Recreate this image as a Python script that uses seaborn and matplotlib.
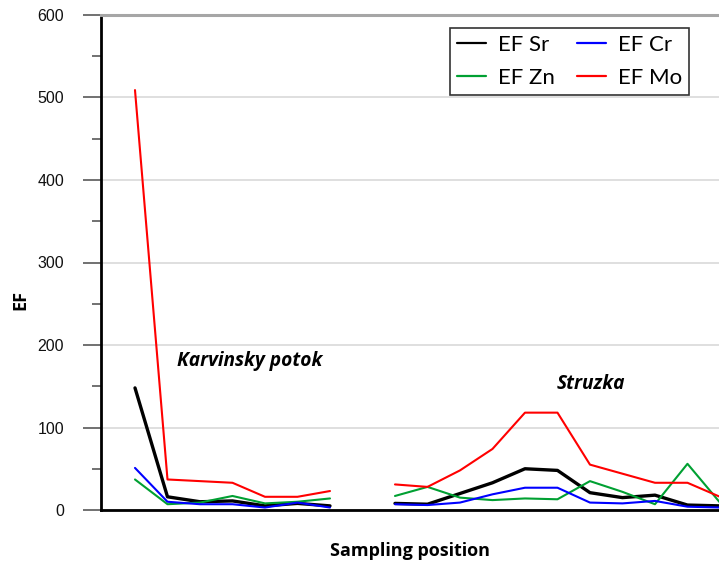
import numpy as np
import pandas as pd
import matplotlib
matplotlib.use("Agg")
import matplotlib.pyplot as plt
from matplotlib.lines import Line2D
from matplotlib.ticker import MultipleLocator
import seaborn as sns

# Sampling positions along the two streams
karvinsky_pos = [0, 1, 2, 3, 4, 5, 6]
struzka_pos = [8, 9, 10, 11, 12, 13, 14, 15, 16, 17, 18]

# Enrichment factors, Karvinsky potok
karv_sr = [148, 16, 10, 11, 5, 8, 5]
karv_cr = [51, 10, 7, 7, 3, 9, 3]
karv_zn = [37, 7, 9, 17, 8, 10, 14]
karv_mo = [509, 37, 35, 33, 16, 16, 23]

# Enrichment factors, Struzka
str_sr = [8, 7, 20, 33, 50, 48, 21, 15, 18, 6, 5]
str_cr = [7, 6, 9, 19, 27, 27, 9, 8, 11, 4, 3]
str_zn = [17, 28, 15, 12, 14, 13, 35, 22, 7, 56, 9]
str_mo = [31, 28, 48, 74, 118, 118, 55, 44, 33, 33, 16]

series_names = ["EF Sr", "EF Zn", "EF Cr", "EF Mo"]
palette = {"EF Sr": "#000000", "EF Zn": "#00a032", "EF Cr": "#0000ff", "EF Mo": "#ff0000"}
widths = {"EF Sr": 2.4, "EF Zn": 1.5, "EF Cr": 1.5, "EF Mo": 1.5}

rows = []
for site, pos, vals in [
    ("Karvinsky potok", karvinsky_pos, {"EF Sr": karv_sr, "EF Zn": karv_zn, "EF Cr": karv_cr, "EF Mo": karv_mo}),
    ("Struzka", struzka_pos, {"EF Sr": str_sr, "EF Zn": str_zn, "EF Cr": str_cr, "EF Mo": str_mo}),
]:
    for name in series_names:
        for p, v in zip(pos, vals[name]):
            rows.append({"site": site, "pos": p, "series": name, "EF": v})
df = pd.DataFrame(rows)

sns.set_style("white")
plt.rcParams["font.family"] = ["Liberation Sans", "DejaVu Sans"]
plt.rcParams["text.color"] = "black"
plt.rcParams["axes.labelcolor"] = "black"

fig = plt.figure(figsize=(7.19, 5.67), dpi=100)
ax = fig.add_axes([101 / 719, 57 / 567, 618 / 719, 495 / 567])

for name in series_names:
    sub = df[df["series"] == name]
    sns.lineplot(data=sub, x="pos", y="EF", units="site", estimator=None,
                 color=palette[name], linewidth=widths[name], ax=ax, legend=False)

ax.set_xlim(-1.046, 17.97)
ax.set_ylim(0, 600)

# gridlines
ax.yaxis.set_major_locator(MultipleLocator(100))
ax.yaxis.set_minor_locator(MultipleLocator(50))
ax.grid(axis="y", which="major", color="#d9d9d9", linewidth=1.2, zorder=0)
ax.grid(axis="x", visible=False)
ax.set_axisbelow(True)

ax.spines["right"].set_visible(False)
ax.spines["top"].set_color("#a6a6a6")
ax.spines["top"].set_linewidth(2.2)
ax.spines["left"].set_color("black")
ax.spines["left"].set_linewidth(2)
ax.spines["bottom"].set_color("black")
ax.spines["bottom"].set_linewidth(2)

ax.set_xticks([])
ax.tick_params(axis="y", which="major", direction="out", length=12.7, width=1.3,
               color="#666666", pad=14, labelsize=11.5, labelcolor="#111111", left=True)
ax.tick_params(axis="y", which="minor", direction="out", length=6.7, width=1.3,
               color="#666666", left=True)

ax.set_xlabel("Sampling position", fontsize=13, fontweight="bold",
              family=["Open Sans", "DejaVu Sans"], va="center", color="black")
ax.set_ylabel("EF", fontsize=13, fontweight="bold",
              family=["Open Sans", "DejaVu Sans"], va="center", color="black")
ax.xaxis.set_label_coords((410 - 101) / 618, -(551 - 510) / 495)
ax.yaxis.set_label_coords(-(101 - 20) / 618, (510 - 300) / 495)

ax.text(3.54, 181, "Karvinsky potok", fontsize=13.8, fontweight="bold", style="italic",
        family=["Open Sans", "DejaVu Sans"], ha="center", va="center", color="black")
ax.text(14.03, 153, "Struzka", fontsize=13.8, fontweight="bold", style="italic",
        family=["Open Sans", "DejaVu Sans"], ha="center", va="center", color="black")

handles = [Line2D([], [], color=palette[n], linewidth=1.6) for n in series_names]
leg = ax.legend(handles, series_names, ncol=2, loc="upper right",
                bbox_to_anchor=(689 / 719, 1 - 28 / 567), bbox_transform=fig.transFigure,
                frameon=True, fancybox=False, edgecolor="black",
                prop={"family": ["Lato", "DejaVu Sans"], "size": 16},
                handlelength=1.3, handletextpad=0.55, columnspacing=1.0,
                labelspacing=0.6, borderpad=0.3, borderaxespad=0)
leg.get_frame().set_linewidth(1.2)
for t in leg.get_texts():
    t.set_color("black")

fig.savefig("out.png", dpi=100)
